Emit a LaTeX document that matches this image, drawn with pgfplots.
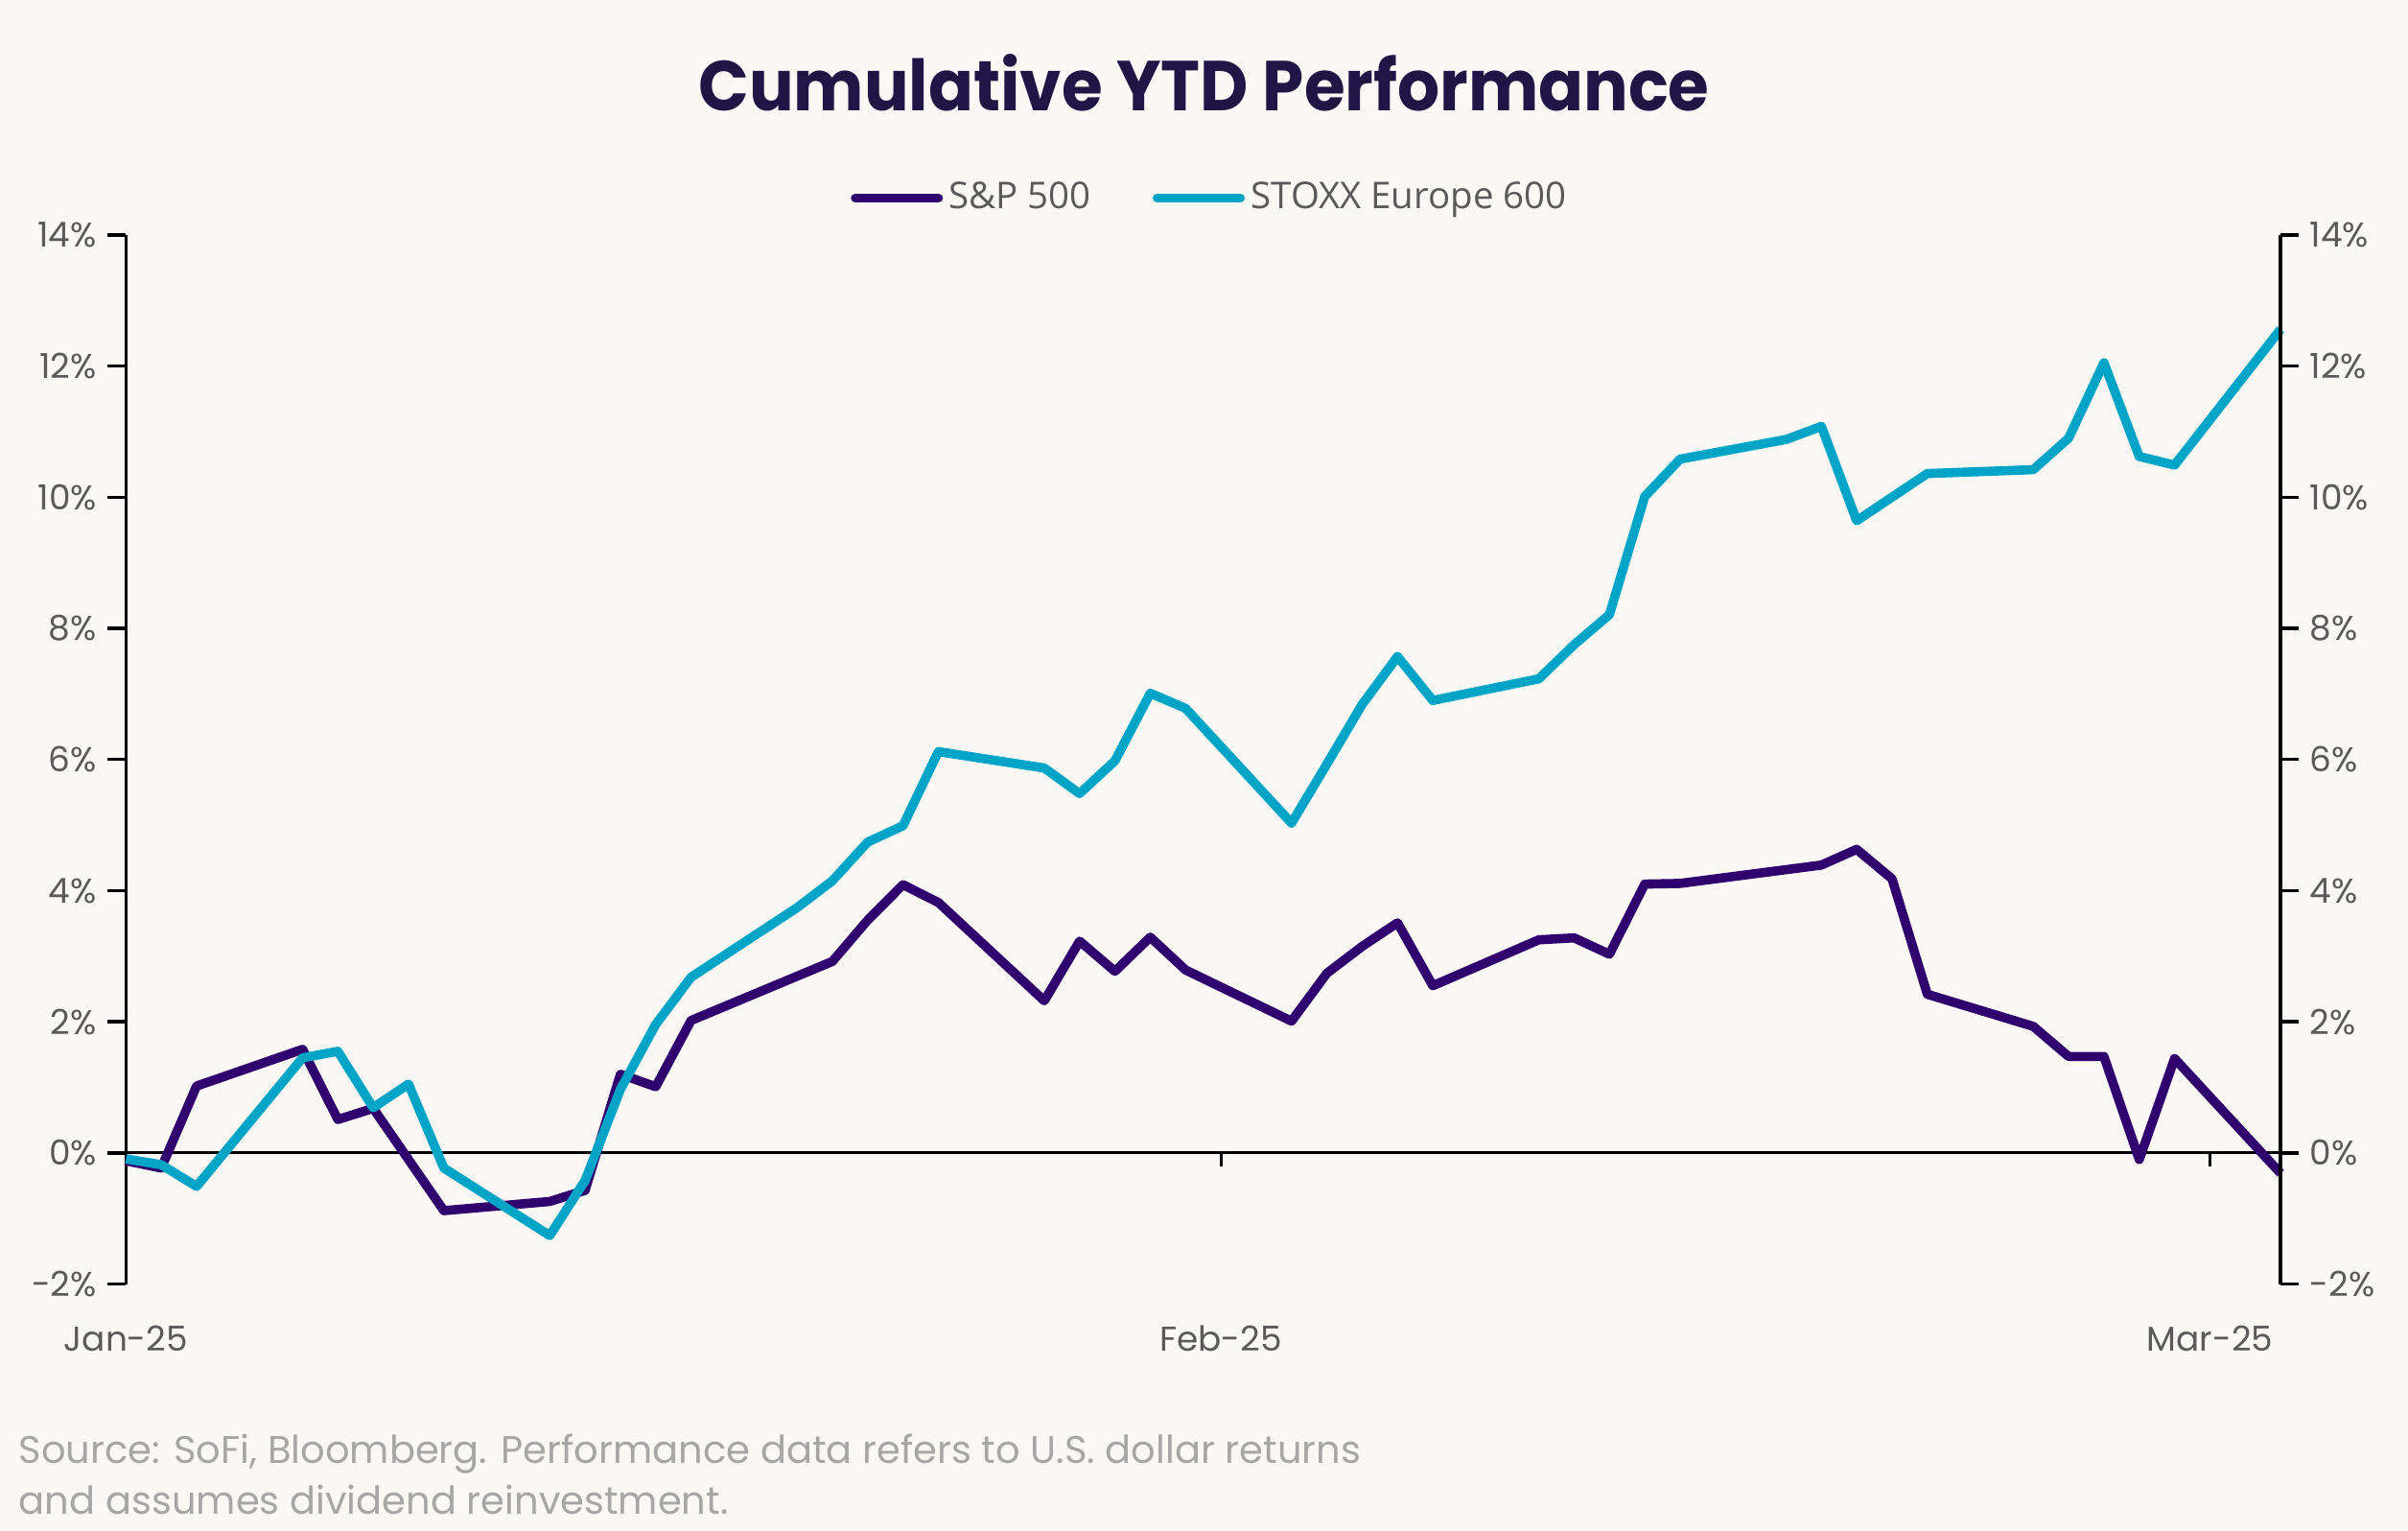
\documentclass[border=0pt]{standalone}
\usepackage{fontspec}
\setmainfont{Poppins}
\newfontfamily\legfont{Open Sans}
\usepackage{pgfplots}
\pgfplotsset{compat=1.18}

\definecolor{bg}{HTML}{F9F8F5}
\definecolor{titlec}{HTML}{1F1646}
\definecolor{tickc}{HTML}{5A5A5A}
\definecolor{footc}{HTML}{A6A6A6}
\definecolor{spx}{HTML}{30006E}
\definecolor{stoxx}{HTML}{00A4C7}

\begin{document}
\begin{tikzpicture}
\fill[bg] (0,0) rectangle (784pt,498.3pt);
\useasboundingbox (0,0) rectangle (784pt,498.3pt);

\node[anchor=base, text=titlec, font=\fontsize{23}{28}\selectfont\bfseries]
  at (392pt,462.35pt) {\scalebox{0.94}[1]{Cumulative YTD Performance}};

% main axis: data, left y axis, month labels at the bottom
\begin{axis}[
  at={(41pt,80.35pt)}, anchor=south west,
  scale only axis, width=701.5pt, height=341.5pt,
  xmin=0, xmax=61, ymin=-2, ymax=14,
  clip=false,
  axis y line*=left, axis x line*=bottom,
  x axis line style={draw=none},
  xtick={0,31,59}, xticklabels={Jan-25,Feb-25,Mar-25},
  xtick style={draw=none},
  xticklabel style={yshift=-4pt},
  ytick={-2,0,...,14},
  yticklabel={\pgfmathprintnumber{\tick}\%},
  tick align=outside, major tick length=6pt,
  y axis line style={line width=1.1pt},
  ytick style={line width=1.1pt, black},
  ticklabel style={font=\fontsize{11.2}{13}\selectfont, text=tickc},
  /pgf/number format/assume math mode=true,
  legend columns=2,
  legend style={at={(0.504,1)}, anchor=center, yshift=12pt,
    draw=none, fill=none, text=tickc,
    font=\legfont\fontsize{12}{14}\selectfont,
    /tikz/every even column/.append style={column sep=18pt}},
  legend image code/.code={\draw[#1, line cap=round] (0pt,0pt) -- (27pt,0pt);},
  every axis plot/.append style={line width=3pt, line join=round},
]
\draw[line width=1pt] (axis cs:0,0) -- (axis cs:61,0);
\draw[line width=1pt] (axis cs:31,0) -- ([yshift=-4.5pt]axis cs:31,0);
\draw[line width=1pt] (axis cs:59,0) -- ([yshift=-4.5pt]axis cs:59,0);

\addplot[spx] coordinates {
  (0,-0.12) (1,-0.23) (2,1.02) (5,1.58) (6,0.51) (7,0.68) (9,-0.88)
  (12,-0.74) (13,-0.57) (14,1.20) (15,1.01) (16,2.02)
  (20,2.92) (21,3.55) (22,4.09) (23,3.82)
  (26,2.32) (27,3.23) (28,2.77) (29,3.29) (30,2.79)
  (33,2.01) (34,2.74) (35,3.15) (36,3.51) (37,2.55)
  (40,3.25) (41,3.28) (42,3.03) (43,4.10) (44,4.11)
  (48,4.39) (49,4.63) (50,4.18) (51,2.42)
  (54,1.93) (55,1.47) (56,1.47) (57,-0.10) (58,1.44)
  (61,-0.31)
};
\addlegendentry{S\&P 500}

\addplot[stoxx] coordinates {
  (0,-0.09) (1,-0.18) (2,-0.51) (5,1.45) (6,1.55) (7,0.69) (8,1.05) (9,-0.23)
  (12,-1.26) (13,-0.42) (14,0.97) (15,1.96) (16,2.68)
  (19,3.74) (20,4.15) (21,4.74) (22,4.99) (23,6.12)
  (26,5.87) (27,5.48) (28,5.98) (29,7.01) (30,6.78)
  (33,5.03) (34,5.93) (35,6.84) (36,7.57) (37,6.90)
  (40,7.23) (41,7.75) (42,8.21) (43,10.01) (44,10.58)
  (47,10.88) (48,11.08) (49,9.64) (51,10.36)
  (54,10.42) (55,10.90) (56,12.05) (57,10.62) (58,10.49)
  (61,12.56)
};
\addlegendentry{STOXX Europe 600}
\end{axis}

% right y axis
\begin{axis}[
  at={(41pt,80.35pt)}, anchor=south west,
  scale only axis, width=701.5pt, height=341.5pt,
  xmin=0, xmax=61, ymin=-2, ymax=14,
  axis y line*=right, axis x line=none,
  ytick={-2,0,...,14},
  yticklabel={\pgfmathprintnumber{\tick}\%},
  tick align=outside, major tick length=6pt,
  y axis line style={line width=1.1pt},
  ytick style={line width=1.1pt, black},
  ticklabel style={font=\fontsize{11.2}{13}\selectfont, text=tickc},
  /pgf/number format/assume math mode=true,
]
\end{axis}

\node[anchor=base west, inner sep=0pt, text=footc, font=\fontsize{12.5}{16}\selectfont]
  at (6pt,21.85pt) {Source: SoFi, Bloomberg. Performance data refers to U.S. dollar returns};
\node[anchor=base west, inner sep=0pt, text=footc, font=\fontsize{12.5}{16}\selectfont]
  at (6pt,5.35pt) {and assumes dividend reinvestment.};
\end{tikzpicture}
\end{document}
